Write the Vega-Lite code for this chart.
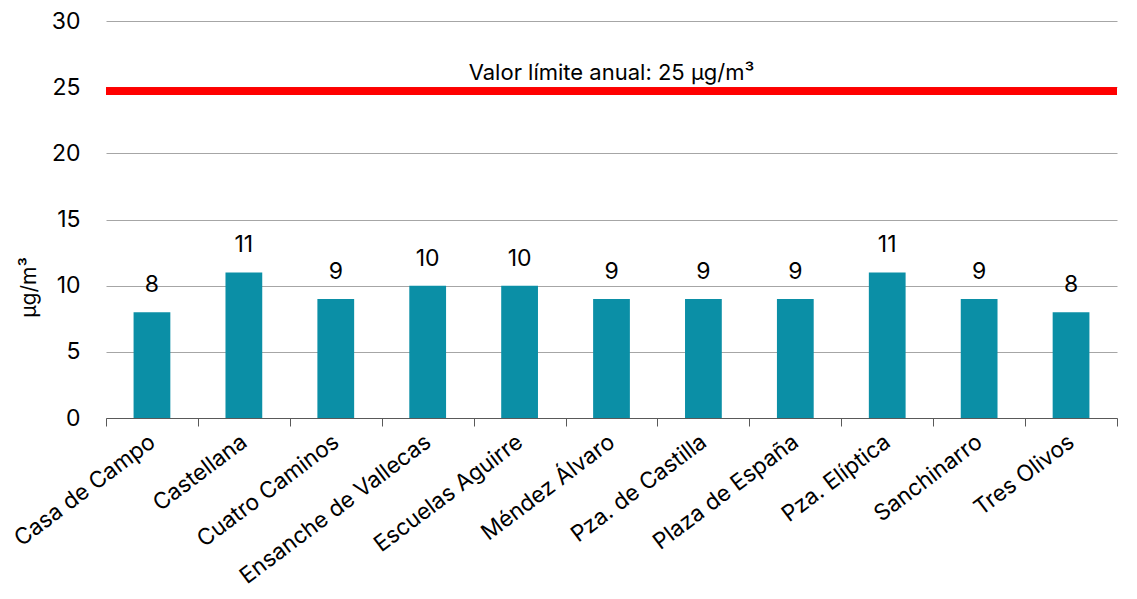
{
  "$schema": "https://vega.github.io/schema/vega-lite/v6.json",
  "autosize": "none",
  "width": 1011,
  "height": 397,
  "padding": {"left": 106, "top": 21, "right": 20, "bottom": 181},
  "background": "white",
  "config": {
    "font": "Inter",
    "view": {"stroke": null}
  },
  "datasets": {
    "estaciones": [
      {"estacion": "Casa de Campo", "valor": 8},
      {"estacion": "Castellana", "valor": 11},
      {"estacion": "Cuatro Caminos", "valor": 9},
      {"estacion": "Ensanche de Vallecas", "valor": 10},
      {"estacion": "Escuelas Aguirre", "valor": 10},
      {"estacion": "Méndez Álvaro", "valor": 9},
      {"estacion": "Pza. de Castilla", "valor": 9},
      {"estacion": "Plaza de España", "valor": 9},
      {"estacion": "Pza. Elíptica", "valor": 11},
      {"estacion": "Sanchinarro", "valor": 9},
      {"estacion": "Tres Olivos", "valor": 8}
    ],
    "limite": [
      {"etiqueta": "Valor límite anual: 25 µg/m³", "limite": 25, "estacion": "Méndez Álvaro"}
    ]
  },
  "data": {"name": "estaciones"},
  "encoding": {
    "x": {
      "field": "estacion",
      "type": "nominal",
      "sort": null,
      "scale": {"paddingInner": 0, "paddingOuter": 0},
      "axis": {
        "title": null,
        "labelAngle": -37,
        "labelAlign": "right",
        "labelBaseline": "middle",
        "labelFontSize": 22.5,
        "labelFontWeight": 400,
        "labelColor": "#000000",
        "labelPadding": 13,
        "labelLimit": 400,
        "tickBand": "extent",
        "tickSize": 8,
        "tickColor": "#595959",
        "domainColor": "#595959",
        "grid": false
      }
    },
    "y": {
      "field": "valor",
      "type": "quantitative",
      "scale": {"domain": [0, 30]},
      "axis": {
        "title": "µg/m³",
        "titleFontSize": 21,
        "titleFontWeight": 400,
        "titleColor": "#000000",
        "titlePadding": 12,
        "titleY": 266,
        "values": [0, 5, 10, 15, 20, 25, 30],
        "labelFontSize": 23,
        "labelFontWeight": 400,
        "labelColor": "#000000",
        "labelPadding": 26,
        "ticks": false,
        "domain": false,
        "gridColor": "#a6a6a6",
        "gridWidth": 1
      }
    }
  },
  "layer": [
    {
      "mark": {"type": "bar", "color": "#0B8FA6", "width": {"band": 0.4}}
    },
    {
      "mark": {"type": "text", "baseline": "alphabetic", "dy": -20, "fontSize": 23, "fontWeight": 400, "color": "#000000"},
      "encoding": {"text": {"field": "valor", "type": "quantitative"}}
    },
    {
      "mark": {"type": "rule", "color": "#ff0000", "strokeWidth": 7},
      "encoding": {"y": {"datum": 24.7}, "x": null}
    },
    {
      "data": {"name": "limite"},
      "mark": {"type": "text", "baseline": "alphabetic", "dy": -7, "fontSize": 22, "fontWeight": 400, "color": "#000000"},
      "encoding": {
        "y": {"field": "limite", "type": "quantitative"},
        "x": {"field": "estacion", "type": "nominal"},
        "text": {"field": "etiqueta", "type": "nominal"}
      }
    }
  ]
}
